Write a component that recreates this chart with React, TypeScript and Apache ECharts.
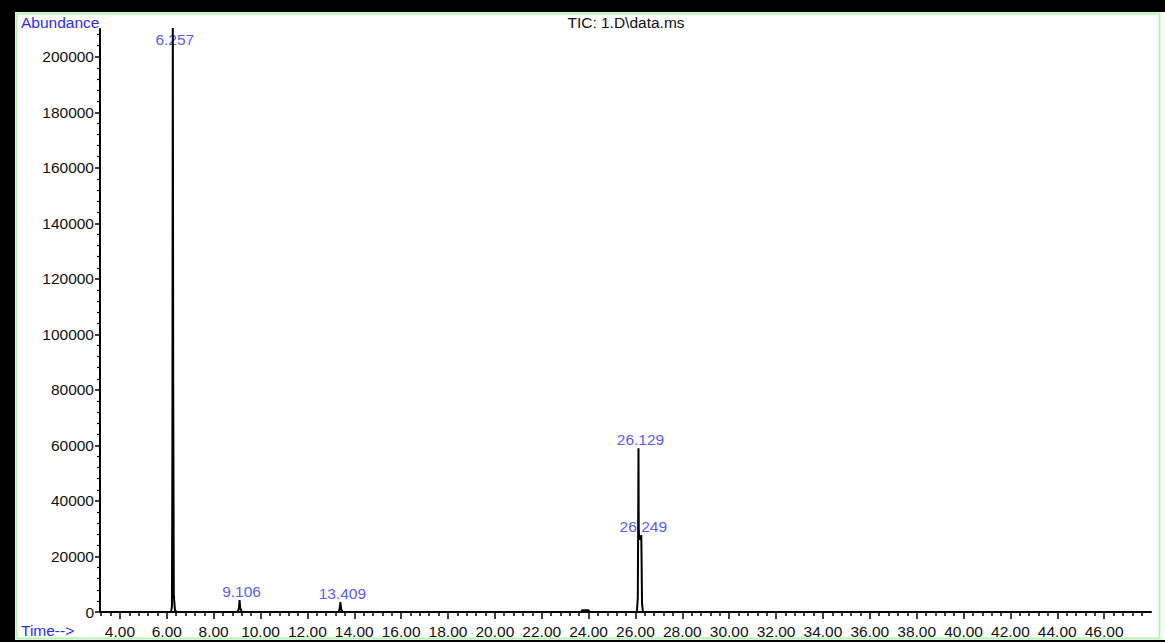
import React, { useEffect, useRef } from "react";
import * as echarts from "echarts";

// Chromatogram trace (retention time in minutes, abundance)
const traceTime = [
  3.15, 6.18, 6.22, 6.24, 6.257, 6.275, 6.3, 6.35, 6.45,
  9.03, 9.08, 9.106, 9.13, 9.2,
  13.33, 13.38, 13.409, 13.44, 13.5,
  23.68, 23.72, 24.0, 24.04,
  26.06, 26.1, 26.12, 26.129, 26.14, 26.16, 26.22, 26.249, 26.26, 26.28, 26.32,
  48.0,
];
const traceAbundance = [
  0, 0, 2000, 60000, 215000, 80000, 6000, 500, 0,
  0, 1500, 4300, 1500, 0,
  0, 1200, 3600, 1000, 0,
  0, 600, 600, 0,
  0, 5000, 40000, 59000, 30000, 26000, 27000, 27600, 20000, 3000, 0,
  0,
];

// Labelled peaks
const peakTimes = [6.257, 9.106, 13.409, 26.129, 26.249];
const peakAbundance = [215000, 4300, 3600, 59000, 27600];

// Tick labels
const xTickLabels = [
  "4.00", "6.00", "8.00", "10.00", "12.00", "14.00", "16.00", "18.00", "20.00", "22.00",
  "24.00", "26.00", "28.00", "30.00", "32.00", "34.00", "36.00", "38.00", "40.00", "42.00",
  "44.00", "46.00",
];
const yTickLabels = [
  "0", "20000", "40000", "60000", "80000", "100000", "120000", "140000", "160000", "180000", "200000",
];

const X_MIN = 3.15;
const X_MAX = 48.0;
const Y_MAX = 210000;
const LABEL_CAP = 203000;

const FONT = "'Liberation Sans', Arial, sans-serif";
const BLUE = "#2b2bff";

export default function App() {
  const ref = useRef<HTMLDivElement>(null);

  useEffect(() => {
    if (!ref.current) return;
    const chart = echarts.init(ref.current, undefined, { renderer: "svg" });

    const xMajor = xTickLabels.map(Number);
    const yMajor = yTickLabels.map(Number);
    const xMinor: number[] = [];
    for (let i = 8; i <= 119; i++) if (i % 5 !== 0) xMinor.push(Math.round(i * 0.4 * 100) / 100);
    const yMinor: number[] = [];
    for (let i = 1; i <= 52; i++) if (i % 5 !== 0) yMinor.push(i * 4000);

    const option: any = {
      animation: false,
      backgroundColor: "#ffffff",
      grid: { left: 100, right: 14, top: 29, bottom: 30, containLabel: false },
      xAxis: [
        {
          type: "value",
          min: X_MIN,
          max: X_MAX,
          position: "bottom",
          axisLine: { show: true, onZero: false, lineStyle: { color: "#000", width: 2 } },
          axisTick: { show: true, customValues: xMajor, length: 7, lineStyle: { color: "#000", width: 1.5 } },
          axisLabel: {
            show: true,
            customValues: xMajor,
            formatter: (v: number) => v.toFixed(2),
            margin: 11,
            color: "#111",
            fontSize: 15.5,
            fontFamily: FONT,
          },
          splitLine: { show: false },
        },
        {
          type: "value",
          min: X_MIN,
          max: X_MAX,
          position: "bottom",
          axisLine: { show: false, onZero: false },
          axisTick: { show: true, customValues: xMinor, length: 4, lineStyle: { color: "#000", width: 1.5 } },
          axisLabel: { show: false },
          splitLine: { show: false },
        },
      ],
      yAxis: [
        {
          type: "value",
          min: 0,
          max: Y_MAX,
          position: "left",
          axisLine: { show: true, onZero: false, lineStyle: { color: "#000", width: 2 } },
          axisTick: { show: true, customValues: yMajor, length: 5, lineStyle: { color: "#000", width: 1.5 } },
          axisLabel: {
            show: true,
            customValues: yMajor,
            formatter: (v: number) => String(v),
            margin: 6,
            color: "#111",
            fontSize: 15.5,
            fontFamily: FONT,
          },
          splitLine: { show: false },
        },
        {
          type: "value",
          min: 0,
          max: Y_MAX,
          position: "left",
          axisLine: { show: false, onZero: false },
          axisTick: { show: true, customValues: yMinor, length: 3, lineStyle: { color: "#000", width: 1.2 } },
          axisLabel: { show: false },
          splitLine: { show: false },
        },
      ],
      series: [
        {
          type: "line",
          xAxisIndex: 0,
          yAxisIndex: 0,
          data: traceTime.map((t, i) => [t, traceAbundance[i]]),
          showSymbol: false,
          symbol: "none",
          clip: true,
          lineStyle: { color: "#000", width: 2 },
          z: 3,
        },
        {
          type: "scatter",
          xAxisIndex: 0,
          yAxisIndex: 0,
          symbolSize: 0,
          data: peakTimes.map((t, i) => [t, Math.min(peakAbundance[i], LABEL_CAP)]),
          label: {
            show: true,
            position: "top",
            distance: 1,
            offset: [2, 0],
            formatter: (p: any) => peakTimes[p.dataIndex].toFixed(3),
            color: BLUE,
            fontSize: 15.5,
            fontFamily: FONT,
          },
          z: 2,
        },
      ],
      graphic: [
        { type: "rect", z: 0, shape: { x: 0, y: 0, width: 1165, height: 12 }, style: { fill: "#000" } },
        { type: "rect", z: 0, shape: { x: 0, y: 0, width: 15, height: 642 }, style: { fill: "#000" } },
        { type: "rect", z: 0, shape: { x: 0, y: 640, width: 1165, height: 2 }, style: { fill: "#000" } },
        {
          type: "rect",
          z: 0,
          shape: { x: 16.5, y: 13.5, width: 1143, height: 625 },
          style: { fill: "none", stroke: "#b4f5b4", lineWidth: 2 },
        },
        {
          type: "text",
          z: 10,
          x: 21,
          y: 22,
          style: { text: "Abundance", fill: BLUE, fontSize: 15.5, fontFamily: FONT, verticalAlign: "middle", align: "left" },
        },
        {
          type: "text",
          z: 10,
          x: 626,
          y: 22,
          style: { text: "TIC: 1.D\\data.ms", fill: "#111", fontSize: 15.5, fontFamily: FONT, verticalAlign: "middle", align: "center" },
        },
        {
          type: "text",
          z: 10,
          x: 21,
          y: 630,
          style: { text: "Time-->", fill: BLUE, fontSize: 15.5, fontFamily: FONT, verticalAlign: "middle", align: "left" },
        },
      ],
    };

    chart.setOption(option);
    return () => chart.dispose();
  }, []);

  return (
    <div
      ref={ref}
      style={{ position: "fixed", left: 0, top: 0, width: 1165, height: 642 }}
    />
  );
}
